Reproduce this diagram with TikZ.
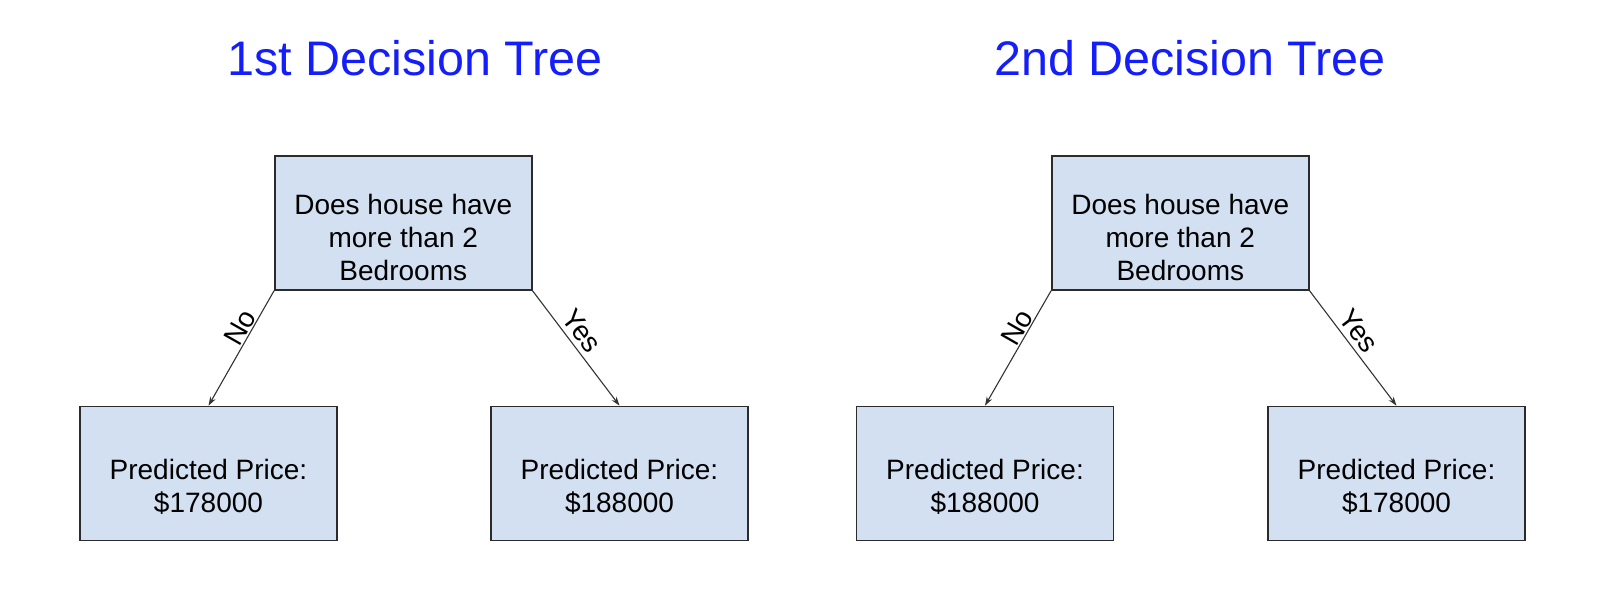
\documentclass[tikz,border=0pt]{standalone}
\usepackage{fontspec}
\setmainfont{Liberation Sans}
\usetikzlibrary{arrows.meta}
\definecolor{boxfill}{HTML}{D3E0F1}
\definecolor{boxline}{HTML}{2B2B2B}
\definecolor{titleblue}{RGB}{20,30,250}
\definecolor{arrowgray}{HTML}{333333}
\newcommand{\rootlines}{\raisebox{-17.5pt}[\height][\depth]{\begin{tabular}{@{}c@{}}Does house have\\more than 2\\Bedrooms\end{tabular}}}
\newcommand{\leaflines}[1]{\raisebox{-16.4pt}[\height][\depth]{\begin{tabular}{@{}c@{}}Predicted Price:\\\$#1\end{tabular}}}
\tikzset{
  treebox/.style={draw=boxline, fill=boxfill, line width=1.5pt, minimum width=257pt, minimum height=134pt, inner sep=0pt, align=center, font=\fontsize{28}{33}\selectfont},
  treetitle/.style={text=titleblue, font=\fontsize{48.5}{52}\selectfont, inner sep=0pt},
  branch/.style={draw=arrowgray, line width=1.1pt, -{Stealth[length=9pt,width=6pt]}},
  branchlabel/.style={font=\fontsize{28}{33}\selectfont, sloped, above, inner sep=1pt}
}
\begin{document}
\begin{tikzpicture}[x=1pt, y=-1pt]
\useasboundingbox (0,0) rectangle (1603,595);
% titles
\node[treetitle] (t1) at (415,58) {1st Decision Tree};
\node[treetitle] (t2) at (1190,58) {2nd Decision Tree};
% first tree
\node[treebox] (r1) at (403.3,223) {\rootlines};
\node[treebox] (l1a) at (208.5,473.4) {\leaflines{178000}};
\node[treebox] (l1b) at (619.5,473.4) {\leaflines{188000}};
\draw[branch] (r1.south west) -- node[branchlabel, pos=0.37] {No} (l1a.north);
\draw[branch] (r1.south east) -- node[branchlabel, pos=0.43, inner sep=5pt] {Yes} (l1b.north);
% second tree
\node[treebox] (r2) at (1180.3,223) {\rootlines};
\node[treebox] (l2a) at (985,473.4) {\leaflines{188000}};
\node[treebox] (l2b) at (1396.5,473.4) {\leaflines{178000}};
\draw[branch] (r2.south west) -- node[branchlabel, pos=0.37] {No} (l2a.north);
\draw[branch] (r2.south east) -- node[branchlabel, pos=0.43, inner sep=5pt] {Yes} (l2b.north);
\end{tikzpicture}
\end{document}
